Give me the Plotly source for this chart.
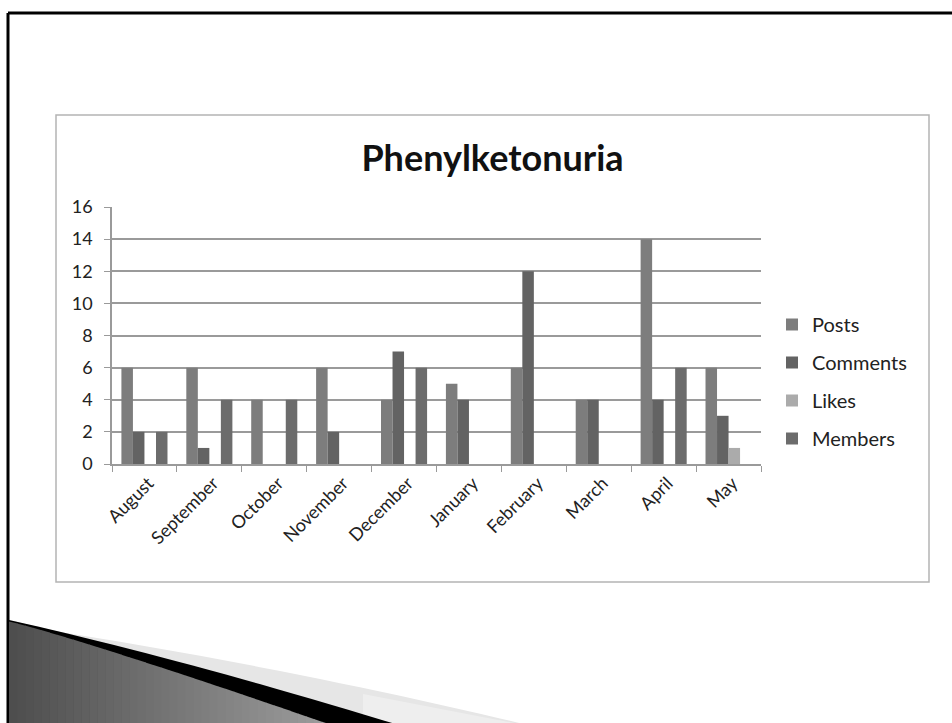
import plotly.graph_objects as go

# Monthly activity counts per category
months = ["August", "September", "October", "November", "December",
          "January", "February", "March", "April", "May"]
posts = [6, 6, 4, 6, 4, 5, 6, 4, 14, 6]
comments = [2, 1, 0, 2, 7, 4, 12, 4, 4, 3]
likes = [0, 0, 0, 0, 0, 0, 0, 0, 0, 1]
members = [2, 4, 4, 0, 6, 0, 0, 0, 6, 0]

series = [
    ("Posts", posts, "#7d7d7d"),
    ("Comments", comments, "#636363"),
    ("Likes", likes, "#ababab"),
    ("Members", members, "#6c6c6c"),
]

W, H = 952, 723
# plot area in pixels
PX0, PX1, PY0, PY1 = 112, 761, 207, 464
FONT = "Lato"


def px(x):
    return (x - PX0) / (PX1 - PX0)


def py(y):
    return (PY1 - y) / (PY1 - PY0)


fig = go.Figure()
for i, (name, vals, color) in enumerate(series):
    fig.add_trace(go.Bar(
        x=months, y=vals, name=name,
        marker=dict(color=color, line=dict(width=0)),
        legendgroup=f"g{i}",
    ))

shapes = []

# slide frame (top and left rules)
shapes.append(dict(type="line", xref="paper", yref="paper",
                   x0=px(8), y0=py(13), x1=px(W + 5), y1=py(13),
                   line=dict(color="#000000", width=3)))
shapes.append(dict(type="line", xref="paper", yref="paper",
                   x0=px(8), y0=py(13), x1=px(8), y1=py(H + 5),
                   line=dict(color="#000000", width=3)))

# chart box
shapes.append(dict(type="rect", xref="paper", yref="paper",
                   x0=px(56), y0=py(115), x1=px(929), y1=py(582),
                   line=dict(color="#b4b4b4", width=1.5), layer="below"))


def path(points):
    parts = []
    for k, (x, y) in enumerate(points):
        parts.append(("M" if k == 0 else "L") + f" {px(x):.5f},{py(y):.5f}")
    return " ".join(parts) + " Z"


def bez_edge(p0, c, p1, n=24):
    pts = []
    for k in range(n + 1):
        t = k / n
        x = (1 - t) ** 2 * p0[0] + 2 * (1 - t) * t * c[0] + t ** 2 * p1[0]
        y = (1 - t) ** 2 * p0[1] + 2 * (1 - t) * t * c[1] + t ** 2 * p1[1]
        pts.append((x, y))
    return pts


# decorative sweep in the lower-left corner
light_edge = bez_edge((60, 632), (300, 670), (540, 728))
shapes.append(dict(type="path", xref="paper", yref="paper",
                   path=path(light_edge + [(9, H + 5), (9, 620)]),
                   fillcolor="#e6e6e6", line=dict(width=0)))
shapes.append(dict(type="path", xref="paper", yref="paper",
                   path=path([(363, 694), (540, 728), (363, 728)]),
                   fillcolor="#eeeeee", line=dict(width=0)))
black_edge = bez_edge((9, 620), (180, 658), (402, 726))
shapes.append(dict(type="path", xref="paper", yref="paper",
                   path=path(black_edge + [(9, H + 5)]),
                   fillcolor="#000000", line=dict(width=0)))


def dark_top(x):
    # lower edge of the black band
    t = (x - 9) / (330 - 9)
    return 620 + 103 * (t ** 1.08)


n = 40
for k in range(n):
    xa = 9 + (330 - 9) * k / n
    xb = 9 + (330 - 9) * (k + 1) / n + 0.6
    t = k / (n - 1)
    g = int(78 + 78 * t)
    col = f"#{g:02x}{g:02x}{g:02x}"
    shapes.append(dict(type="path", xref="paper", yref="paper",
                       path=path([(xa, dark_top(xa) + 1.5), (xb, dark_top(min(xb, 330)) + 1.5),
                                  (xb, H + 5), (xa, H + 5)]),
                       fillcolor=col, line=dict(width=0)))

fig.update_layout(
    width=W, height=H,
    margin=dict(l=PX0, r=W - PX1, t=PY0, b=H - PY1),
    paper_bgcolor="#ffffff", plot_bgcolor="#ffffff",
    barmode="group", bargap=0.29, bargroupgap=0,
    font=dict(family=FONT, color="#222222"),
    title=dict(text="<b>Phenylketonuria</b>", x=492.5 / W, xanchor="center",
               y=1 - 158 / H, yanchor="middle", yref="container",
               font=dict(family=FONT, size=36, color="#111111")),
    xaxis=dict(
        type="category", tickson="boundaries", ticks="outside", ticklen=6,
        tickcolor="#9a9a9a", showline=True, linecolor="#9a9a9a", linewidth=1.5,
        tickangle=-45, tickfont=dict(family=FONT, size=18, color="#222222"),
        ticklabelshift=4, showgrid=False,
    ),
    yaxis=dict(
        range=[0, 16], dtick=2, ticks="outside", ticklen=6, tickcolor="#9a9a9a",
        showline=True, linecolor="#9a9a9a", linewidth=1.5,
        showgrid=True, gridcolor="#9a9a9a", gridwidth=1.5,
        zeroline=False, ticklabelstandoff=8,
        tickfont=dict(family=FONT, size=18, color="#222222"),
    ),
    legend=dict(
        x=px(772), xanchor="left", y=py(305), yanchor="top",
        font=dict(family=FONT, size=20, color="#222222"),
        tracegroupgap=9, bgcolor="rgba(0,0,0,0)",
    ),
    shapes=shapes,
    showlegend=True,
)

fig.write_html("out.html")
